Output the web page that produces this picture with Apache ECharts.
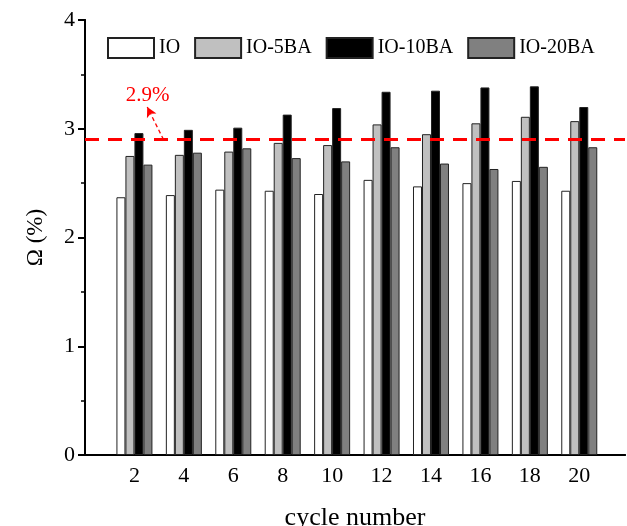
<!DOCTYPE html>
<html>
<head>
<meta charset="utf-8">
<script src="https://cdn.jsdelivr.net/npm/echarts@6/dist/echarts.min.js"></script>
<style>html,body{margin:0;padding:0;background:#fff;}#c{width:627px;height:526px;}</style>
</head>
<body>
<div id="c"></div>
<script>
const cycles = [2, 4, 6, 8, 10, 12, 14, 16, 18, 20];
const seriesNames = ['IO', 'IO-5BA', 'IO-10BA', 'IO-20BA'];
const io     = [2.37, 2.39, 2.44, 2.43, 2.40, 2.53, 2.47, 2.50, 2.52, 2.43];
const io5ba  = [2.75, 2.76, 2.79, 2.87, 2.85, 3.04, 2.95, 3.05, 3.11, 3.07];
const io10ba = [2.96, 2.99, 3.01, 3.13, 3.19, 3.34, 3.35, 3.38, 3.39, 3.20];
const io20ba = [2.67, 2.78, 2.82, 2.73, 2.70, 2.83, 2.68, 2.63, 2.65, 2.83];
const thresholdValue = 2.9;
const thresholdLabel = '2.9%';
const arrowFrom = [3.36, 2.9];
const arrowTo = [2.70, 3.20];
const labelAt = [2.72, 3.31];

const FONT = 'Liberation Serif';
const colors = ['#ffffff', '#c0c0c0', '#000000', '#808080'];
const allValues = [io, io5ba, io10ba, io20ba];

const chart = echarts.init(document.getElementById('c'), null, {renderer: 'canvas'});

const series = seriesNames.map((name, i) => ({
  name: name,
  type: 'bar',
  barWidth: 9,
  barGap: '0%',
  itemStyle: {color: colors[i], borderColor: '#222', borderWidth: 1},
  data: cycles.map((c, k) => [c, allValues[i][k]])
}));

series[0].markLine = {
  silent: true,
  symbol: 'none',
  label: {show: false},
  lineStyle: {color: '#ff0000', type: [14, 9], width: 3},
  data: [{yAxis: thresholdValue}]
};
series[1].markLine = {
  silent: true,
  symbol: ['none', 'arrow'],
  symbolSize: [8, 10],
  label: {show: false},
  lineStyle: {color: '#ff0000', type: [4, 3], width: 1.3},
  data: [[{coord: arrowFrom}, {coord: arrowTo}]]
};
series[1].markPoint = {
  silent: true,
  symbol: 'circle',
  symbolSize: 0,
  label: {show: true, formatter: thresholdLabel, color: '#ff0000', fontFamily: FONT, fontSize: 21, position: 'inside'},
  data: [{coord: labelAt}]
};

chart.setOption({
  animation: false,
  backgroundColor: '#fff',
  textStyle: {fontFamily: FONT},
  grid: {left: 85, right: 2, top: 20, bottom: 71, containLabel: false, outerBoundsMode: 'none'},
  legend: {
    left: 102, top: 32,
    itemWidth: 46, itemHeight: 20, itemGap: 14,
    icon: 'rect',
    textStyle: {fontFamily: FONT, fontSize: 20, color: '#000'},
    data: seriesNames
  },
  xAxis: [{
    type: 'value',
    min: 0, max: 21.85, interval: 2,
    name: 'cycle number',
    nameLocation: 'middle',
    nameGap: 50,
    nameTextStyle: {fontFamily: FONT, fontSize: 26, color: '#000'},
    axisLine: {show: true, onZero: false, lineStyle: {color: '#000', width: 2}},
    axisTick: {show: false},
    splitLine: {show: false},
    axisLabel: {
      fontFamily: FONT, fontSize: 22, color: '#000', margin: 10,
      formatter: v => (v >= 2 && v <= 20 && Math.abs(v % 2) < 1e-9) ? String(v) : ''
    }
  }, {
    type: 'value', position: 'top',
    min: 0, max: 21.85,
    axisLine: {show: true, lineStyle: {color: '#000', width: 2}},
    axisTick: {show: false}, axisLabel: {show: false}, splitLine: {show: false}
  }],
  yAxis: [{
    type: 'value',
    min: 0, max: 4, interval: 1,
    name: 'Ω (%)',
    nameLocation: 'middle',
    nameGap: 38,
    nameRotate: 90,
    nameTextStyle: {fontFamily: FONT, fontSize: 23, color: '#000'},
    axisLine: {show: true, onZero: false, lineStyle: {color: '#000', width: 2}},
    axisTick: {show: true, inside: false, length: 7, lineStyle: {color: '#000', width: 2}},
    minorTick: {show: true, splitNumber: 2, length: 4, lineStyle: {color: '#000', width: 1.5}},
    splitLine: {show: false},
    axisLabel: {fontFamily: FONT, fontSize: 22, color: '#000', margin: 10}
  }, {
    type: 'value', position: 'right',
    min: 0, max: 4,
    axisLine: {show: true, lineStyle: {color: '#000', width: 2}},
    axisTick: {show: false}, axisLabel: {show: false}, splitLine: {show: false}
  }],
  series: series
});
</script>
</body>
</html>
